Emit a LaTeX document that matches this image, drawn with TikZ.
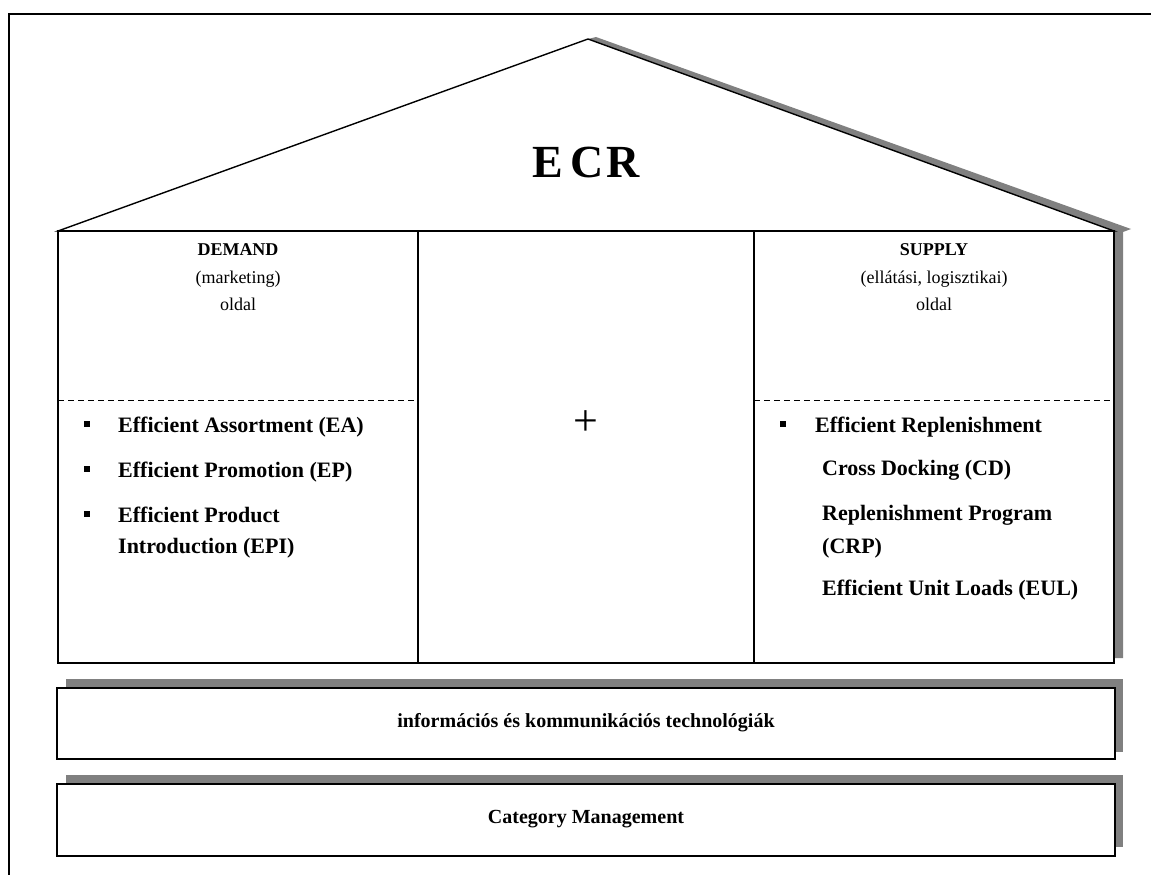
\documentclass[tikz,border=0pt]{standalone}
\usepackage{fontspec}
\setmainfont{Liberation Serif}
\begin{document}
\begin{tikzpicture}[x=1pt,y=-1pt,
  outline/.style={line width=1.4pt, line join=miter},
  shadowfill/.style={fill=black!50, draw=none},
  divider/.style={line width=1pt, dash pattern=on 6pt off 4pt},
  head/.style={font=\fontsize{18}{22}\selectfont, anchor=base, inner sep=0pt},
  headb/.style={head, font=\fontsize{18}{22}\selectfont\bfseries},
  item/.style={font=\fontsize{22}{26}\selectfont\bfseries, anchor=base west, inner sep=0pt},
  bulletmark/.style={fill=black, rectangle, minimum size=6pt, inner sep=0pt},
  bandtext/.style={font=\fontsize{20}{24}\selectfont\bfseries, inner sep=0pt},
]
\useasboundingbox (0,0) rectangle (1151,875);

% page frame
\draw[line width=1.5pt] (9,875) -- (9,14) -- (1151,14);

% shadow of the house (right slope and right wall)
\fill[shadowfill] (596,37) -- (1131,229) -- (1123,232) -- (1123,658)
  -- (1114,658) -- (1114,231) -- (588,39) -- cycle;

% roof
\filldraw[outline, fill=white] (58,231) -- (588,39) -- (1114,231) -- cycle;
% body with three columns
\filldraw[outline, fill=white] (58,231) rectangle (1114,663);
\draw[outline] (418,231) -- (418,663);
\draw[outline] (754,231) -- (754,663);
\draw[divider] (58,400) -- (418,400);
\draw[divider] (754,400) -- (1114,400);

% foundation bands
\fill[shadowfill] (66,679) rectangle (1123,752);
\filldraw[outline, fill=white] (57,688) rectangle (1115,759);
\fill[shadowfill] (66,775) rectangle (1123,847);
\filldraw[outline, fill=white] (57,784) rectangle (1115,856);

% roof title
\node[font=\fontsize{46}{52}\selectfont\bfseries, inner sep=0pt] (ecr) at (586,162)
  {E\hspace{7pt}C\hspace{3pt}R};

% demand column
\node[headb] (dem) at (238,255) {DEMAND};
\node[head] (demsub) at (238,283) {(marketing)};
\node[head] (demside) at (238,310) {oldal};
\node[bulletmark] (b1) at (87,424) {};
\node[item] (ea) at (118,432) {Efficient Assortment (EA)};
\node[bulletmark] (b2) at (87,469) {};
\node[item] (ep) at (118,477) {Efficient Promotion (EP)};
\node[bulletmark] (b3) at (87,514) {};
\node[item] (epi1) at (118,522) {Efficient Product};
\node[item] (epi2) at (118,553) {Introduction (EPI)};

% centre column
\node[font=\fontsize{44}{50}\selectfont, inner sep=0pt] (plus) at (586,423) {+};

% supply column
\node[headb] (sup) at (934,255) {SUPPLY};
\node[head] (supsub) at (934,283) {(ellátási, logisztikai)};
\node[head] (supside) at (934,310) {oldal};
\node[bulletmark] (b4) at (783,424) {};
\node[item] (er) at (815,432) {Efficient Replenishment};
\node[item] (cd) at (822,475) {Cross Docking (CD)};
\node[item] (crp1) at (822,520) {Replenishment Program};
\node[item] (crp2) at (822,553) {(CRP)};
\node[item] (eul) at (822,595) {Efficient Unit Loads (EUL)};

% foundation labels
\node[bandtext] (ict) at (586,723) {információs és kommunikációs technológiák};
\node[bandtext] (cm) at (586,819) {Category Management};
\end{tikzpicture}
\end{document}
